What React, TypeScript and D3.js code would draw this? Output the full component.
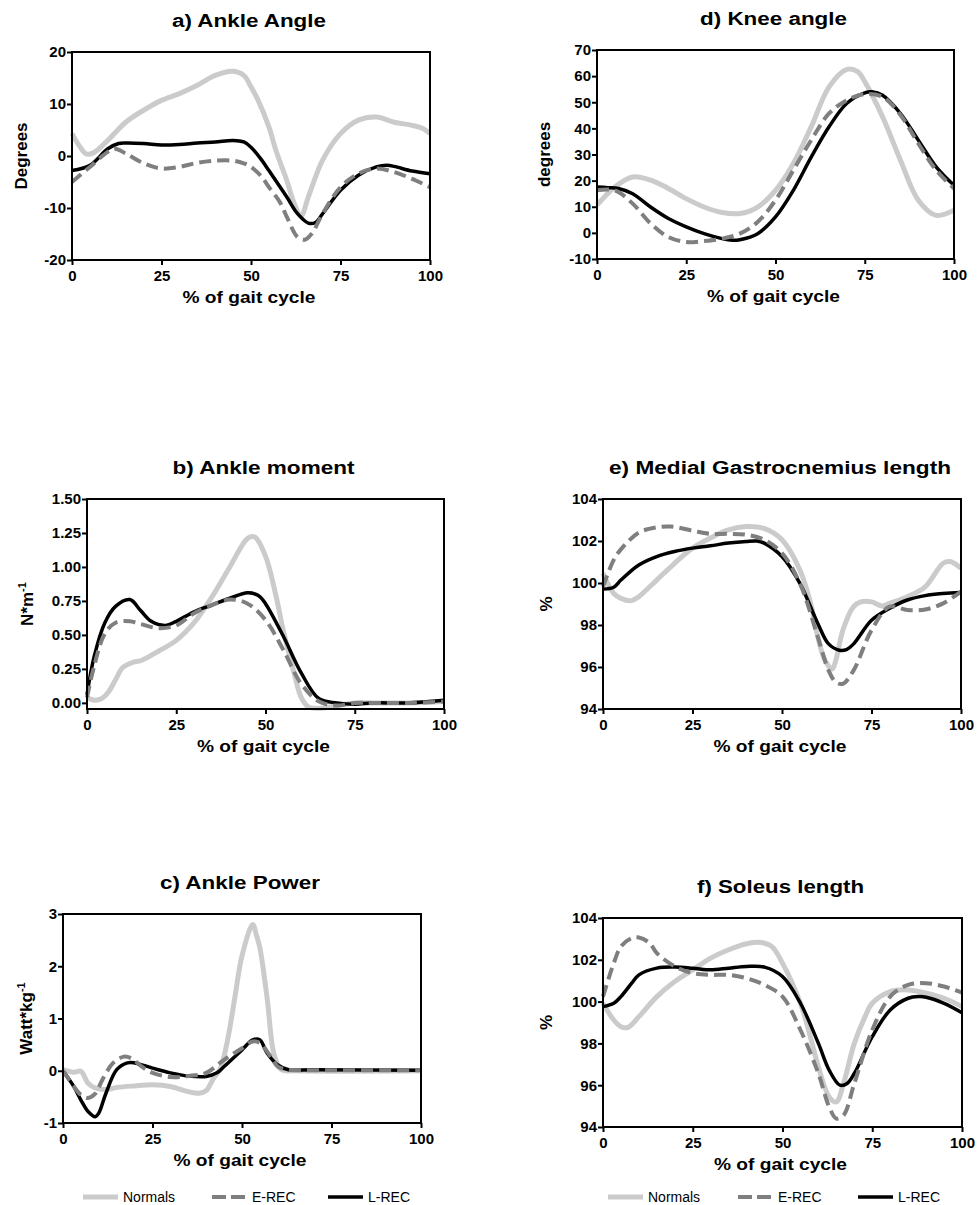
import React, { useEffect, useRef } from "react";
import * as d3 from "d3";

type Pt = [number, number];

// x = % of gait cycle, y = value
const ankleAngleNormals: Pt[] = [[0,4.3],[2,2],[4,0.4],[6,0.6],[10,3],[15,6.5],[20,8.8],[25,10.7],[30,12],[35,13.6],[40,15.5],[45,16.3],[48,15.5],[50,13.3],[52,10.7],[55,5.6],[57,1],[60,-4.7],[62,-9],[64,-11.5],[66,-7.9],[70,-0.8],[75,4.3],[80,6.9],[85,7.5],[90,6.5],[95,5.9],[98,5.3],[100,4.3]];
const ankleAngleLrec: Pt[] = [[0,-2.8],[5,-1.8],[10,1.4],[13,2.4],[15,2.5],[20,2.4],[25,2.1],[30,2.2],[35,2.5],[40,2.7],[45,3.0],[48,2.7],[50,1.7],[53,-0.8],[55,-2.8],[60,-7.9],[63,-11.1],[66,-12.9],[68,-12.8],[70,-11.1],[75,-6.6],[80,-3.7],[85,-2.1],[88,-1.8],[90,-2.0],[95,-2.9],[100,-3.4]];
const ankleAngleErec: Pt[] = [[0,-5],[5,-2.1],[10,0.8],[12,1.4],[15,0.5],[20,-1.4],[25,-2.4],[30,-2.1],[35,-1.3],[40,-0.9],[45,-0.9],[48,-1.4],[50,-2.1],[53,-4],[55,-6],[58,-8.8],[60,-11.7],[63,-15.6],[65,-16.1],[67,-14.9],[70,-11.1],[75,-6],[80,-3.4],[85,-2.4],[90,-3.1],[95,-4.4],[100,-6]];

const kneeNormals: Pt[] = [[0,10.6],[5,17.6],[10,21.4],[15,20.2],[20,17],[25,13.1],[30,9.9],[35,7.8],[40,7.4],[45,9.9],[50,16.3],[55,26.6],[60,40.6],[65,55.9],[70,62.6],[73,61.7],[75,57.9],[80,44.4],[85,27.8],[90,12.5],[95,6.7],[100,8.7]];
const kneeLrec: Pt[] = [[0,17.6],[3,17.3],[6,17],[10,15],[15,9.9],[20,5.5],[25,2.3],[30,-0.3],[35,-2.2],[38,-2.8],[40,-2.6],[45,-0.3],[50,6.1],[55,16.3],[60,29],[65,40.6],[70,49.6],[75,53.6],[77,54],[80,52.7],[85,45.7],[90,35.5],[95,25.3],[100,18.2]];
const kneeErec: Pt[] = [[0,16.3],[5,16.3],[10,11.2],[15,3.6],[20,-1.6],[25,-3.5],[30,-3.1],[35,-2.2],[40,-0.3],[45,4.2],[50,12.5],[55,24],[60,35.5],[65,45.7],[70,50.8],[75,53.1],[80,52.1],[85,45.1],[90,34.2],[95,24],[100,17]];

const momentNormals: Pt[] = [[0,0.04],[2,0.02],[4,0.03],[6,0.08],[8,0.17],[10,0.26],[13,0.3],[15,0.31],[20,0.38],[25,0.46],[30,0.59],[35,0.78],[40,1.0],[45,1.21],[47,1.22],[50,1.08],[53,0.78],[55,0.53],[58,0.22],[60,0.04],[62,-0.03],[65,-0.04],[70,-0.02],[75,0],[80,0],[90,0],[100,0.01]];
const momentLrec: Pt[] = [[0,0.06],[2,0.34],[5,0.59],[8,0.71],[12,0.76],[15,0.68],[18,0.6],[22,0.57],[25,0.6],[30,0.67],[35,0.72],[40,0.77],[45,0.81],[48,0.79],[50,0.73],[55,0.49],[60,0.22],[65,0.03],[70,0],[75,-0.01],[80,0],[90,0],[100,0.02]];
const momentErec: Pt[] = [[0,0.04],[2,0.27],[5,0.51],[8,0.59],[12,0.6],[15,0.58],[20,0.55],[25,0.57],[30,0.66],[35,0.72],[40,0.76],[45,0.73],[50,0.61],[55,0.39],[60,0.14],[65,0.01],[70,-0.02],[75,0],[80,0],[90,0],[100,0.01]];

const powerNormals: Pt[] = [[0,0.02],[3,-0.03],[5,-0.01],[7,-0.24],[9,-0.33],[12,-0.36],[15,-0.32],[20,-0.29],[25,-0.27],[30,-0.3],[35,-0.4],[38,-0.43],[40,-0.38],[42,-0.15],[44,0.05],[46,0.6],[48,1.4],[50,2.2],[53,2.8],[54,2.6],[55,2.35],[57,1.4],[59,0.3],[61,0.02],[65,0],[100,0]];
const powerLrec: Pt[] = [[0,0],[3,-0.3],[5,-0.56],[7,-0.78],[9,-0.88],[10,-0.81],[12,-0.43],[15,0.02],[18,0.15],[20,0.15],[25,0.05],[30,-0.04],[35,-0.1],[40,-0.11],[43,-0.04],[45,0.08],[50,0.4],[53,0.59],[55,0.59],[57,0.34],[60,0.11],[63,0.02],[70,0.02],[100,0.01]];
const powerErec: Pt[] = [[0,0],[3,-0.3],[5,-0.46],[7,-0.52],[9,-0.44],[11,-0.17],[14,0.15],[17,0.27],[19,0.24],[22,0.08],[25,-0.04],[30,-0.12],[35,-0.1],[40,-0.04],[45,0.21],[50,0.43],[53,0.56],[55,0.53],[58,0.27],[60,0.08],[63,0.02],[70,0.01],[100,0.01]];

const gastrocNormals: Pt[] = [[0,100.46],[3,99.5],[5,99.27],[8,99.16],[10,99.35],[15,100.14],[20,100.94],[25,101.66],[30,102.14],[35,102.53],[40,102.69],[45,102.6],[50,102.06],[55,100.62],[58,99.03],[60,97.43],[62,96.32],[64,95.9],[65,96.3],[67,97.75],[70,98.87],[72,99.1],[75,99.1],[78,98.9],[80,99.03],[85,99.35],[90,99.82],[95,100.94],[97,101.02],[100,100.7]];
const gastrocLrec: Pt[] = [[0,99.71],[3,99.8],[5,100.14],[10,100.86],[15,101.26],[20,101.5],[25,101.66],[30,101.77],[35,101.9],[40,101.98],[43,102],[45,101.9],[50,101.26],[55,99.98],[60,98.07],[63,97.1],[66,96.8],[68,96.83],[70,97.1],[75,98.23],[80,98.79],[85,99.19],[90,99.4],[95,99.5],[100,99.55]];
const gastrocErec: Pt[] = [[0,99.82],[3,101.1],[5,101.6],[10,102.4],[15,102.65],[19,102.69],[25,102.49],[30,102.34],[35,102.34],[40,102.3],[45,102.06],[50,101.42],[55,99.98],[60,97.43],[63,95.84],[65,95.28],[67,95.2],[70,95.84],[75,97.75],[80,98.87],[85,98.71],[90,98.74],[95,99.03],[100,99.59]];

const soleusNormals: Pt[] = [[0,99.92],[3,99.12],[5,98.8],[7,98.77],[10,99.28],[15,100.24],[20,100.96],[25,101.52],[30,102.08],[35,102.48],[40,102.77],[44,102.83],[47,102.64],[50,101.84],[55,99.92],[58,98.16],[60,96.88],[63,95.44],[65,95.2],[67,96.08],[70,98],[73,99.28],[75,99.92],[80,100.48],[85,100.56],[90,100.4],[95,100.16],[100,99.76]];
const soleusLrec: Pt[] = [[0,99.76],[3,99.92],[5,100.24],[8,100.88],[10,101.28],[15,101.6],[20,101.65],[25,101.6],[30,101.52],[35,101.6],[40,101.68],[45,101.65],[50,101.2],[55,99.92],[60,98],[63,96.72],[66,96],[68,96.08],[70,96.56],[75,98.32],[80,99.6],[85,100.16],[88,100.24],[90,100.21],[95,99.92],[100,99.47]];
const soleusErec: Pt[] = [[0,100.24],[3,101.84],[5,102.64],[8,103.04],[10,103.07],[13,102.8],[15,102.32],[20,101.68],[25,101.36],[30,101.28],[35,101.28],[40,101.12],[45,100.8],[50,100.24],[55,98.64],[60,96.56],[63,94.96],[65,94.4],[67,94.56],[70,96.08],[75,98.64],[80,100.24],[85,100.8],[90,100.88],[95,100.72],[100,100.43]];

const xTicks = [0, 25, 50, 75, 100];
const seriesNames = ["Normals", "E-REC", "L-REC"];

const FONT = "'Liberation Sans', Arial, Helvetica, sans-serif";

const panels = [
  { title: "a) Ankle Angle", titleW: 154, yLabel: "Degrees", sup: "", yOff: -45,
    left: 72, right: 430, top: 52, bottom: 260, domain: [-20, 20], ticks: [-20, -10, 0, 10, 20], dec: 0,
    data: [ankleAngleNormals, ankleAngleErec, ankleAngleLrec] },
  { title: "d) Knee angle", titleW: 147, yLabel: "degrees", sup: "", yOff: -47,
    left: 597, right: 954, top: 50, bottom: 259, domain: [-10, 70], ticks: [-10, 0, 10, 20, 30, 40, 50, 60, 70], dec: 0,
    data: [kneeNormals, kneeErec, kneeLrec] },
  { title: "b) Ankle moment", titleW: 182, yLabel: "N*m", sup: "-1", yOff: -54,
    left: 87, right: 444, top: 499, bottom: 709, domain: [-0.045, 1.5], ticks: [0, 0.25, 0.5, 0.75, 1, 1.25, 1.5], dec: 2,
    data: [momentNormals, momentErec, momentLrec] },
  { title: "e) Medial Gastrocnemius length", titleW: 342, yLabel: "%", sup: "", yOff: -51,
    left: 603, right: 961, top: 499, bottom: 709, domain: [94, 104], ticks: [94, 96, 98, 100, 102, 104], dec: 0,
    data: [gastrocNormals, gastrocErec, gastrocLrec] },
  { title: "c) Ankle Power", titleW: 160, yLabel: "Watt*kg", sup: "-1", yOff: -31,
    left: 63, right: 421, top: 914, bottom: 1123, domain: [-1, 3], ticks: [-1, 0, 1, 2, 3], dec: 0,
    data: [powerNormals, powerErec, powerLrec] },
  { title: "f) Soleus length", titleW: 167, yLabel: "%", sup: "", yOff: -51,
    left: 603, right: 962, top: 918, bottom: 1127, domain: [94, 104], ticks: [94, 96, 98, 100, 102, 104], dec: 0,
    data: [soleusNormals, soleusErec, soleusLrec] },
];

const styles = [
  { color: "#cbcbcb", width: 5, dash: null },
  { color: "#7f7f7f", width: 4, dash: "12,6" },
  { color: "#000000", width: 3.5, dash: null },
];

const legends = [
  { x: [83, 212, 328], y: 1197 },
  { x: [608, 738, 858], y: 1197 },
];

const App = () => {
  const svgRef = useRef<SVGSVGElement>(null);

  useEffect(() => {
    const svg = d3.select(svgRef.current);
    svg.selectAll("*").remove();

    panels.forEach((p) => {
      const x = d3.scaleLinear().domain([0, 100]).range([p.left, p.right]);
      const y = d3.scaleLinear().domain(p.domain).range([p.bottom, p.top]);
      const g = svg.append("g");
      const cx = (p.left + p.right) / 2 - 2;

      // title
      g.append("text")
        .attr("x", cx).attr("y", p.top - 25)
        .attr("text-anchor", "middle")
        .attr("textLength", p.titleW).attr("lengthAdjust", "spacingAndGlyphs")
        .style("font", `bold 18px ${FONT}`)
        .text(p.title);

      // curves: Normals, L-REC, then E-REC on top
      const line = d3.line<Pt>().x((d) => x(d[0])).y((d) => y(d[1])).curve(d3.curveCatmullRom.alpha(0.5));
      [0, 2, 1].forEach((i) => {
        const s = styles[i];
        g.append("path")
          .attr("d", line(p.data[i]))
          .attr("fill", "none")
          .attr("stroke", s.color)
          .attr("stroke-width", s.width)
          .attr("stroke-dasharray", s.dash)
          .attr("stroke-linejoin", "round");
      });

      // frame
      g.append("rect")
        .attr("x", p.left).attr("y", p.top)
        .attr("width", p.right - p.left).attr("height", p.bottom - p.top)
        .attr("fill", "none").attr("stroke", "#000").attr("stroke-width", 2);

      const yAxis = g.append("g")
        .attr("transform", `translate(${p.left},0)`)
        .call(d3.axisLeft(y).tickValues(p.ticks).tickSize(5).tickPadding(1)
          .tickFormat((d) => (d as number).toFixed(p.dec)));
      const xAxis = g.append("g")
        .attr("transform", `translate(0,${p.bottom})`)
        .call(d3.axisBottom(x).tickValues(xTicks).tickSize(5).tickPadding(5)
          .tickFormat((d) => String(d)));
      [yAxis, xAxis].forEach((a) => {
        a.select(".domain").remove();
        a.selectAll("line").attr("stroke", "#000").attr("stroke-width", 2);
        a.selectAll("text").attr("fill", "#000").style("font", `bold 15px ${FONT}`);
      });

      // x title
      g.append("text")
        .attr("x", cx).attr("y", p.bottom + 43)
        .attr("text-anchor", "middle")
        .attr("textLength", 133).attr("lengthAdjust", "spacingAndGlyphs")
        .style("font", `bold 17px ${FONT}`)
        .text("% of gait cycle");

      // y title
      const yt = g.append("text")
        .attr("transform", `translate(${p.left + p.yOff},${(p.top + p.bottom) / 2}) rotate(-90)`)
        .attr("text-anchor", "middle")
        .style("font", `bold 17px ${FONT}`)
        .text(p.yLabel);
      if (p.sup) {
        yt.append("tspan").attr("dy", -7).style("font-size", "11px").text(p.sup);
      }
    });

    // legends
    legends.forEach((l) => {
      seriesNames.forEach((name, i) => {
        const s = styles[i];
        svg.append("line")
          .attr("x1", l.x[i]).attr("x2", l.x[i] + 35)
          .attr("y1", l.y).attr("y2", l.y)
          .attr("stroke", s.color).attr("stroke-width", s.width)
          .attr("stroke-dasharray", s.dash ? "14,5" : null);
        svg.append("text")
          .attr("x", l.x[i] + 40).attr("y", l.y + 5)
          .style("font", `14px ${FONT}`)
          .text(name);
      });
    });
  }, []);

  return (
    <div style={{ position: "absolute", left: 0, top: 0, background: "#fff" }}>
      <svg ref={svgRef} width={979} height={1205}></svg>
    </div>
  );
};

export default App;
